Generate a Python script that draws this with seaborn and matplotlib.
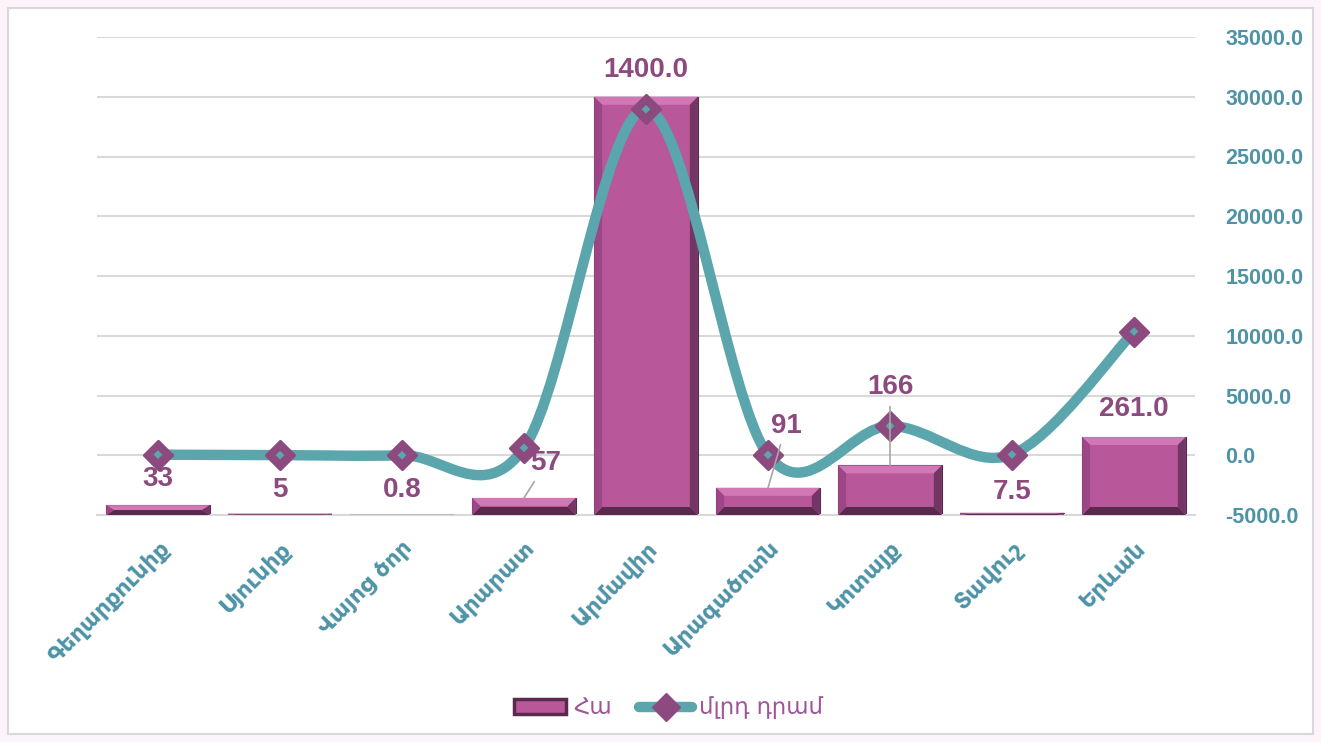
import numpy as np
import pandas as pd
import matplotlib
matplotlib.use("Agg")
import matplotlib.pyplot as plt
from matplotlib.path import Path
from matplotlib.patches import PathPatch, Polygon, Rectangle, Patch
from matplotlib.lines import Line2D
import seaborn as sns

# ---- data ----
regions = ['Գեղարքունիք', 'Սյունիք', 'Վայոց ծոր', 'Արարատ', 'Արմավիր',
           'Արագածոտն', 'Կոտայք', 'Տավուշ', 'Երևան']
hectares = [33, 5, 0.8, 57, 1400, 91, 166, 7.5, 261]
hectare_labels = ['33', '5', '0.8', '57', '1400.0', '91', '166', '7.5', '261.0']
billion_amd = [50, 10, 2, 620, 28950, 30, 2450, 60, 10350]
series_bar = 'Հա'
series_line = 'մլրդ դրամ'
right_ticks = [-5000, 0, 5000, 10000, 15000, 20000, 25000, 30000, 35000]

# ---- style ----
BAR = '#B8589A'
BAR_TOP = '#D277B6'
BAR_LEFT = '#9C4687'
BAR_RIGHT = '#733564'
BAR_BOTTOM = '#5A2A4D'
LINE = '#5BA5AD'
MARK = '#8C4A7E'
LABEL = '#8C4A7E'
AXIS_TXT = '#4E93A6'
GRID = '#D9D9D9'
LEG_TXT = '#A0559A'

sns.set_style('white')
plt.rcParams['font.family'] = ['Liberation Sans', 'DejaVu Sans']

fig = plt.figure(figsize=(13.21, 7.42), dpi=100, facecolor='#FCF4FA')
fig.patches.append(Rectangle((8 / 1321, 8 / 742), 1 - 16 / 1321, 1 - 16 / 742,
                             transform=fig.transFigure, facecolor='white',
                             edgecolor=GRID, lw=1.5, zorder=-10))

L, R, B, T = 97 / 1321, 1195 / 1321, 1 - 515 / 742, 1 - 37 / 742
ax = fig.add_axes([L, B, R - L, T - B])
ax.set_facecolor('none')

df = pd.DataFrame({'region': regions, 'value': hectares})
sns.barplot(data=df, x='region', y='value', ax=ax, color=BAR, width=0.85,
            saturation=1, edgecolor=BAR_BOTTOM, linewidth=0.8, zorder=2)

ymax_bar = 1600
ax.set_ylim(0, ymax_bar)
ax.set_xlim(-0.5, len(regions) - 0.5)
ax.set_yticks(np.linspace(0, ymax_bar, 9))
ax.set_yticklabels([])
ax.tick_params(axis='y', length=0, left=False)
ax.grid(axis='y', color=GRID, lw=1.5, zorder=0)
ax.set_axisbelow(True)
ax.set_xlabel('')
ax.set_ylabel('')
for s in ['top', 'left', 'right']:
    ax.spines[s].set_visible(False)
ax.spines['bottom'].set_color(GRID)
ax.spines['bottom'].set_linewidth(1.5)
ax.tick_params(axis='x', length=0, pad=16)
ax.set_xticks(range(len(regions)))
ax.set_xticklabels(regions, rotation=45, ha='right', rotation_mode='anchor',
                   color=AXIS_TXT, fontsize=16, fontweight='bold',
                   family='DejaVu Sans')

# bevel effect derived from each bar's geometry
px_x = (R - L) * 1321 / len(regions)
px_y = (T - B) * 742 / ymax_bar
bev = 8
for p in list(ax.patches):
    x0, y0 = p.get_x(), p.get_y()
    w, h = p.get_width(), p.get_height()
    x1, y1 = x0 + w, y0 + h
    bx = min(bev / px_x, w / 2)
    by = min(bev / px_y, h / 2)
    polys = [
        ([(x0, y1), (x1, y1), (x1 - bx, y1 - by), (x0 + bx, y1 - by)], BAR_TOP),
        ([(x0, y0), (x1, y0), (x1 - bx, y0 + by), (x0 + bx, y0 + by)], BAR_BOTTOM),
        ([(x0, y0), (x0 + bx, y0 + by), (x0 + bx, y1 - by), (x0, y1)], BAR_LEFT),
        ([(x1, y0), (x1 - bx, y0 + by), (x1 - bx, y1 - by), (x1, y1)], BAR_RIGHT),
    ]
    for pts, c in polys:
        ax.add_patch(Polygon(pts, closed=True, facecolor=c, edgecolor='none', zorder=3))

# ---- right axis with smoothed line ----
ax2 = ax.twinx()
ax2.set_ylim(right_ticks[0], right_ticks[-1])
ax2.set_yticks(right_ticks)
ax2.set_yticklabels([f'{t:.1f}' for t in right_ticks], color=AXIS_TXT,
                    fontsize=15.5, fontweight='bold')
ax2.tick_params(axis='y', length=0, pad=22)
for s in ['top', 'left', 'right', 'bottom']:
    ax2.spines[s].set_visible(False)

xs = np.arange(len(regions), dtype=float)
ys = np.array(billion_amd, dtype=float)
pts = np.column_stack([xs, ys])
ext = np.vstack([pts[0], pts, pts[-1]])
verts = [tuple(pts[0])]
codes = [Path.MOVETO]
for i in range(len(pts) - 1):
    p0, p1, p2, p3 = ext[i], ext[i + 1], ext[i + 2], ext[i + 3]
    c1 = p1 + (p2 - p0) / 6
    c2 = p2 - (p3 - p1) / 6
    verts += [tuple(c1), tuple(c2), tuple(p2)]
    codes += [Path.CURVE4] * 3
ax2.add_patch(PathPatch(Path(verts, codes), facecolor='none', edgecolor=LINE,
                        lw=7.5, capstyle='round', joinstyle='round', zorder=4))
sns.scatterplot(x=xs, y=ys, ax=ax2, marker='D', s=14.5 ** 2, color=MARK,
                edgecolor=MARK, linewidth=2, zorder=5)
sns.scatterplot(x=xs, y=ys, ax=ax2, marker='D', s=4.5 ** 2, color=LINE,
                edgecolor='none', linewidth=0, zorder=6)
ax2.set_xlim(-0.5, len(regions) - 0.5)

# ---- bar data labels ----
offsets = [(0, 26, False), (0, 24, False), (0, 25, False), (22, 35, True),
           (0, 27, False), (18, 62, True), (0, 78, True), (0, 21, False),
           (0, 28, False)]
for i, (v, lab) in enumerate(zip(hectares, hectare_labels)):
    dx, dy, lead = offsets[i]
    kw = {}
    if lead:
        kw['arrowprops'] = dict(arrowstyle='-', color='#A6A6A6', lw=1.2,
                                shrinkA=2, shrinkB=0)
    ax2.annotate(lab, xy=(i, v), xycoords=ax.transData,
                 xytext=(dx, dy), textcoords='offset pixels',
                 ha='center', va='center', fontsize=20, fontweight='bold',
                 color=LABEL, zorder=7, **kw)

# ---- legend ----
handles = [Patch(facecolor=BAR, edgecolor=BAR_BOTTOM, lw=2.5),
           Line2D([0], [0], color=LINE, lw=7.5, marker='D', markersize=14,
                  markerfacecolor=MARK, markeredgecolor=MARK,
                  solid_capstyle='round')]
leg = fig.legend(handles, [series_bar, series_line], loc='center',
                 bbox_to_anchor=(0.506, 0.046), ncol=2, frameon=False,
                 handlelength=2.3, handleheight=0.6, columnspacing=1.2,
                 handletextpad=0.3,
                 prop={'family': 'DejaVu Sans', 'size': 16.5})
for t in leg.get_texts():
    t.set_color(LEG_TXT)

fig.savefig('out.png', dpi=100, facecolor=fig.get_facecolor())
